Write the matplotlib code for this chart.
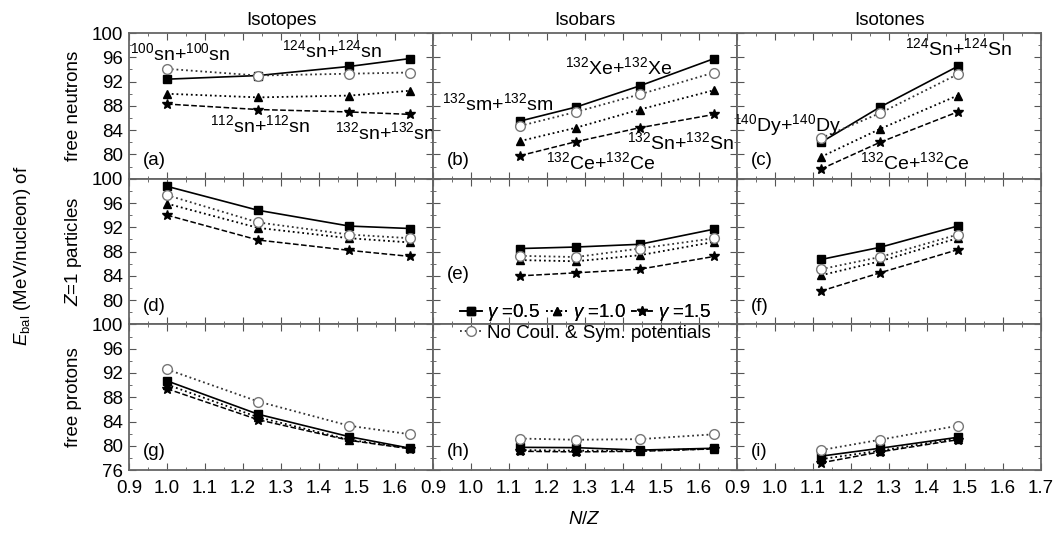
import matplotlib
matplotlib.use("Agg")
import matplotlib.pyplot as plt
from matplotlib.lines import Line2D
from matplotlib.ticker import MultipleLocator

plt.rcParams['font.family'] = ['Liberation Sans', 'DejaVu Sans']
plt.rcParams['mathtext.fontset'] = 'custom'
plt.rcParams['mathtext.rm'] = 'Liberation Sans'
plt.rcParams['mathtext.it'] = 'Liberation Sans:italic'

# N/Z of the reaction systems
nz_isotopes = [1.0, 1.24, 1.48, 1.64]
nz_isobars = [1.129, 1.276, 1.444, 1.64]
nz_isotones = [1.121, 1.276, 1.48]

# rows: free neutrons, Z=1 particles, free protons
# each entry: (gamma=0.5, gamma=1.0, gamma=1.5, no Coul. & Sym.)
iso_n = ([92.4, 93.0, 94.5, 95.8], [90.0, 89.4, 89.7, 90.5],
         [88.3, 87.4, 87.0, 86.6], [94.1, 93.0, 93.3, 93.5])
iso_z1 = ([98.75, 94.8, 92.2, 91.8], [95.9, 91.9, 90.2, 89.5],
          [94.0, 89.9, 88.2, 87.2], [97.3, 92.8, 90.8, 90.2])
iso_p = ([90.7, 85.2, 81.5, 79.6], [90.1, 84.7, 81.0, 79.6],
         [89.4, 84.3, 80.9, 79.5], [92.6, 87.3, 83.3, 81.9])

bar_n = ([85.5, 87.8, 91.3, 95.8], [82.2, 84.4, 87.4, 90.6],
         [79.8, 82.1, 84.4, 86.6], [84.7, 87.0, 89.9, 93.5])
bar_z1 = ([88.5, 88.75, 89.2, 91.7], [86.6, 86.4, 87.4, 89.6],
          [84.0, 84.5, 85.1, 87.2], [87.3, 87.1, 88.5, 90.2])
bar_p = ([79.75, 79.7, 79.3, 79.6], [79.3, 79.2, 79.2, 79.5],
         [79.1, 79.0, 79.1, 79.5], [81.2, 81.0, 81.1, 81.9])

ton_n = ([82.0, 87.8, 94.5], [79.6, 84.2, 89.7],
         [77.6, 82.0, 87.0], [82.7, 86.8, 93.2])
ton_z1 = ([86.7, 88.7, 92.2], [84.1, 86.4, 90.2],
          [81.5, 84.5, 88.3], [85.1, 87.1, 90.8])
ton_p = ([78.3, 79.6, 81.4], [77.8, 79.2, 81.2],
         [77.2, 79.0, 81.0], [79.3, 81.0, 83.3])

col_titles = ["Isotopes", "Isobars", "Isotones"]
row_labels = ["free neutrons", "$Z$=1 particles", "free protons"]
panel_tags = ["(a)", "(b)", "(c)", "(d)", "(e)", "(f)", "(g)", "(h)", "(i)"]
x_ticklabels = ["0.9", "1.0", "1.1", "1.2", "1.3", "1.4", "1.5", "1.6", "1.7"]
y_ticklabels = ["76", "80", "84", "88", "92", "96", "100"]

nz = [nz_isotopes, nz_isobars, nz_isotones]
data = [[iso_n, bar_n, ton_n], [iso_z1, bar_z1, ton_z1], [iso_p, bar_p, ton_p]]

styles = [
    dict(marker='s', ls='-', color='black', mfc='black', ms=6, lw=1.2),
    dict(marker='^', ls=':', color='black', mfc='black', ms=6, lw=1.3),
    dict(marker='*', ls='--', color='black', mfc='black', ms=7, lw=1.1),
    dict(marker='o', ls=':', color='#333333', mfc='white', mec='#777777', ms=7, lw=1.3),
]
fs = 13.5

fig, axes = plt.subplots(3, 3, figsize=(10.57, 5.33), dpi=100)
fig.subplots_adjust(left=0.122, right=0.985, bottom=0.118, top=0.938,
                    wspace=0, hspace=0)

for r in range(3):
    for c in range(3):
        ax = axes[r, c]
        for s, st in zip(data[r][c], styles):
            ax.plot(nz[c], s, **st)
        ax.set_xlim(0.9, 1.7)
        ax.set_ylim(76, 100)
        ax.xaxis.set_major_locator(MultipleLocator(0.1))
        ax.xaxis.set_minor_locator(MultipleLocator(0.05))
        ax.yaxis.set_major_locator(MultipleLocator(4))
        ax.yaxis.set_minor_locator(MultipleLocator(2))
        ax.tick_params(which='both', direction='in', top=True, right=True,
                       color='#555555', labelsize=fs)
        ax.tick_params(which='major', length=5)
        ax.tick_params(which='minor', length=2.5)
        ax.tick_params(axis='x', pad=7)
        ax.tick_params(axis='y', pad=4)
        for sp in ax.spines.values():
            sp.set_color('#666666')
            sp.set_linewidth(1.3)
        if r == 2:
            labs = list(x_ticklabels)
            if c < 2:
                labs[-1] = ""
            ax.set_xticks([0.9 + 0.1 * i for i in range(9)])
            ax.set_xticklabels(labs)
        else:
            ax.set_xticklabels([])
        if c == 0:
            labs = list(y_ticklabels)
            if r < 2:
                labs[0] = ""
            ax.set_yticks(range(76, 101, 4))
            ax.set_yticklabels(labs)
        else:
            ax.set_yticklabels([])
        if r == 0:
            ax.set_title(col_titles[c], fontsize=fs, pad=6)
        tag_y = 0.345 if (r, c) == (1, 1) else 0.125
        ax.text(0.045, tag_y, panel_tags[3 * r + c], transform=ax.transAxes,
                fontsize=fs, va='center')

for r in range(3):
    pos = axes[r, 0].get_position()
    fig.text(0.07, (pos.y0 + pos.y1) / 2, row_labels[r], rotation=90,
             ha='center', va='center', fontsize=fs)

fig.text(0.021, 0.52, "$E_{\\rm bal}$ (MeV/nucleon) of", rotation=90,
         ha='center', va='center', fontsize=fs)
fig.text(0.553, 0.025, "$N$/$Z$", ha='center', va='center', fontsize=fs)

ann = dict(fontsize=14, ha='center', va='center')
a = axes[0, 0]
a.text(1.034, 96.7, "$^{100}$sn+$^{100}$sn", **ann)
a.text(1.434, 97.2, "$^{124}$sn+$^{124}$sn", **ann)
a.text(1.245, 84.9, "$^{112}$sn+$^{112}$sn", **ann)
a.text(1.574, 83.6, "$^{132}$sn+$^{132}$sn", clip_on=True, **ann)
b = axes[0, 1]
b.text(1.387, 94.4, "$^{132}$Xe+$^{132}$Xe", **ann)
b.text(1.071, 88.5, "$^{132}$sm+$^{132}$sm", **ann)
b.text(1.55, 82.1, "$^{132}$Sn+$^{132}$Sn", **ann)
b.text(1.34, 78.7, "$^{132}$Ce+$^{132}$Ce", **ann)
cc = axes[0, 2]
cc.text(1.482, 97.5, "$^{124}$Sn+$^{124}$Sn", **ann)
cc.text(1.031, 84.9, "$^{140}$Dy+$^{140}$Dy", clip_on=True, **ann)
cc.text(1.368, 78.7, "$^{132}$Ce+$^{132}$Ce", **ann)

handles = [Line2D([], [], **st) for st in styles]
labels = ["$\\gamma$ =0.5", "$\\gamma$ =1.0", "$\\gamma$ =1.5",
          "No Coul. & Sym. potentials"]
leg_kw = dict(frameon=False, fontsize=fs, handlelength=1.2, handletextpad=0.25,
              columnspacing=0.3, borderpad=0, borderaxespad=0)
leg1 = fig.legend(handles[:3], labels[:3], ncol=3, loc='center left',
                  bbox_to_anchor=(0.435, 0.413), **leg_kw)
fig.add_artist(leg1)
fig.legend(handles[3:], labels[3:], ncol=1, loc='center left',
           bbox_to_anchor=(0.435, 0.375), **leg_kw)

fig.savefig("out.png", dpi=100)
